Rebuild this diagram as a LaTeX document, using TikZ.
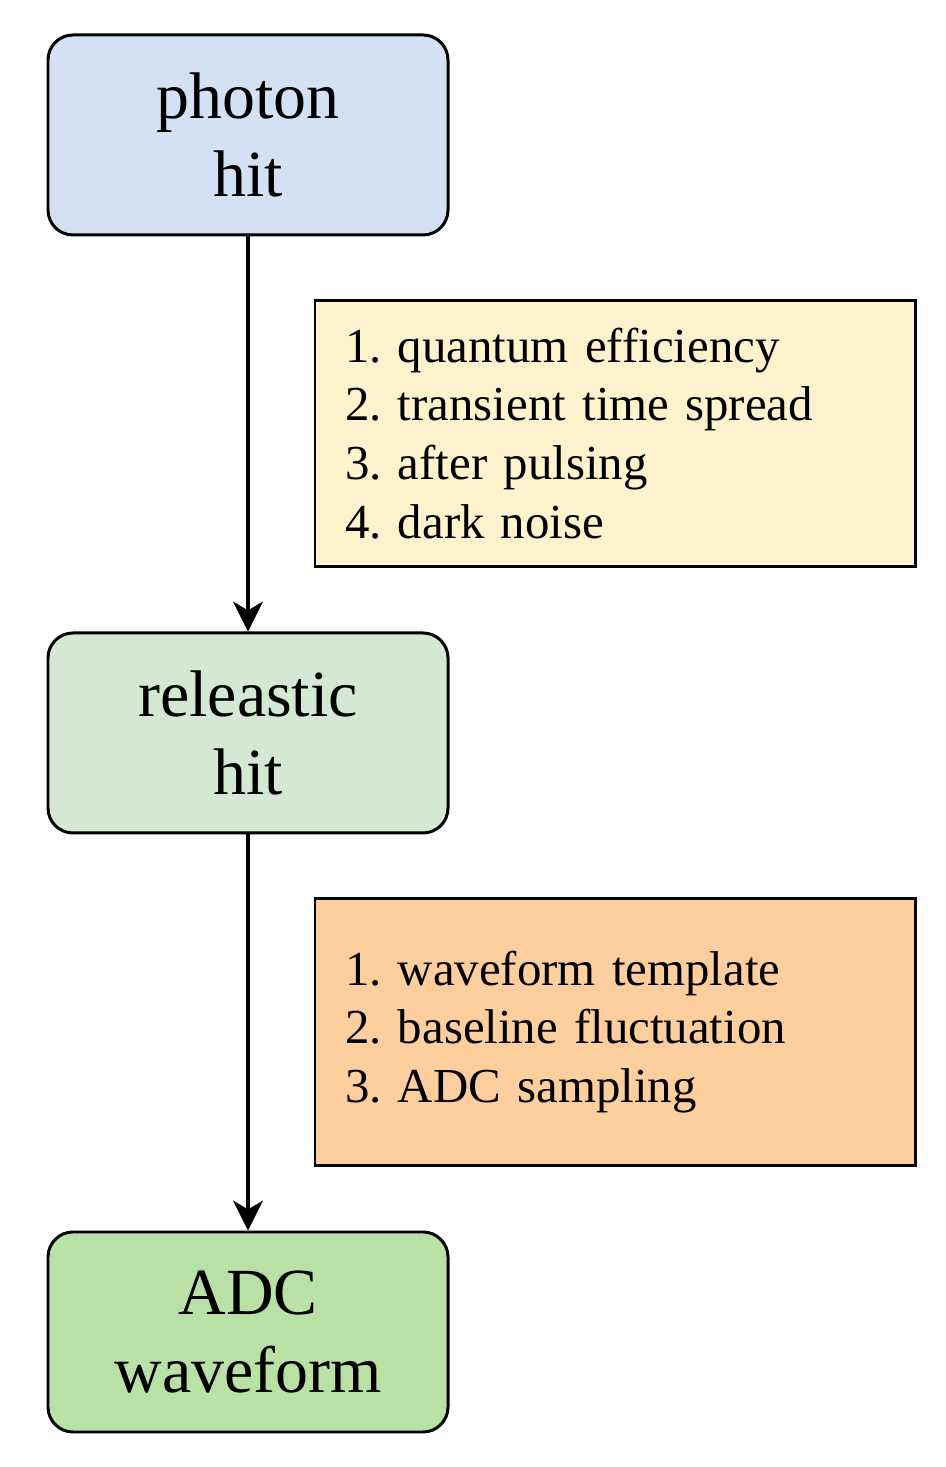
\documentclass[tikz,border=0pt]{standalone}
\usepackage{fontspec}
\setmainfont{Liberation Serif}
\usetikzlibrary{arrows.meta}
\definecolor{hitblue}{HTML}{D4E1F5}
\definecolor{hitgreen}{HTML}{D5E8D4}
\definecolor{adcgreen}{HTML}{B9E0A5}
\definecolor{listyellow}{HTML}{FFF2CC}
\definecolor{listorange}{HTML}{FFCE9F}
\tikzset{
  stagebox/.style={draw, line width=1.7pt, rounded corners=0.5cm, minimum width=8cm,
    minimum height=4cm, align=center, font=\fontsize{37.5}{44}\selectfont},
  listbox/.style={draw, line width=1.7pt, minimum width=12cm, minimum height=5.33cm,
    text width=10.8cm, align=left, inner sep=0pt, font=\fontsize{27.8}{33.5}\selectfont\frenchspacing},
  flow/.style={line width=1.8pt, -{Stealth[length=17pt, width=17pt, inset=5pt]}}
}
\begin{document}
\begin{tikzpicture}
                    \useasboundingbox (0.000000,0.000000) rectangle (18.900000,29.340000);

                    % Drawing stage photon hit
                    \node [stagebox, fill=hitblue] (photon) at (4.960000,26.640000) {photon\\hit};%

                    % Drawing stage releastic hit
                    \node [stagebox, fill=hitgreen] (real) at (4.960000,14.680000) {releastic\\hit};%

                    % Drawing stage ADC waveform
                    \node [stagebox, fill=adcgreen] (adc) at (4.960000,2.700000) {ADC\\waveform};%

                    % Drawing list of PMT effects
                    \node [listbox, fill=listyellow] (pmtlist) at (12.300000,20.670000)
                      {1. quantum efficiency\\2. transient time spread\\3. after pulsing\\4. dark noise};%

                    % Drawing list of electronics effects
                    \node [listbox, fill=listorange] (elelist) at (12.300000,8.700000)
                      {1. waveform template\\2. baseline fluctuation\\3. ADC sampling};%

                    % Drawing arrow photon -> real
                    \draw [flow] (photon) -- (real);%

                    % Drawing arrow real -> adc
                    \draw [flow] (real) -- (adc);%
\end{tikzpicture}
\end{document}
